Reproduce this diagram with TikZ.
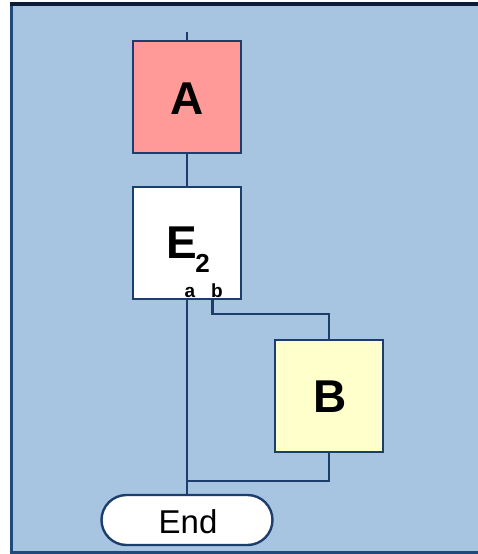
\documentclass[tikz,border=0pt]{standalone}
\usepackage{fontspec}
\setmainfont{Liberation Sans}
\usetikzlibrary{shapes.misc}
\definecolor{bg}{HTML}{A7C4E1}
\definecolor{lineblue}{HTML}{1C3E6C}
\definecolor{frametop}{HTML}{0B1D36}
\definecolor{frameside}{HTML}{1F4A7A}
\definecolor{afill}{HTML}{FF9A99}
\definecolor{bfill}{HTML}{FFFFCC}
\tikzset{
  conn/.style={draw=lineblue, line width=2.7pt},
  stepbox/.style={draw=lineblue, line width=2.7pt, rectangle, minimum width=108pt, minimum height=112pt, inner sep=0pt},
  term/.style={draw=lineblue, line width=2.4pt, rounded rectangle, fill=white, minimum width=171pt, minimum height=50pt, inner sep=0pt},
  bigtxt/.style={font=\fontsize{46}{46}\selectfont\bfseries, inner sep=0pt, anchor=base},
  smalltxt/.style={font=\fontsize{19}{19}\selectfont\bfseries, inner sep=0pt, anchor=base},
}
\begin{document}
\begin{tikzpicture}[x=1pt,y=-1pt]
\useasboundingbox (0,0) rectangle (477,554);
% background and frame
\fill[bg] (11.5,4) rectangle (480,552);
\draw[frameside, line width=3pt] (11.5,552.5) -- (11.5,3.5);
\draw[frametop, line width=4pt] (10,4) -- (480,4);
\draw[frameside, line width=3pt] (10,552.5) -- (480,552.5);

% nodes
\node[stepbox, fill=afill] (A) at (187,97) {};
\node[stepbox, fill=white] (E) at (187,243) {};
\node[stepbox, fill=bfill] (B) at (329,396) {};
\node[term] (End) at (187,520) {};

% texts
\node[bigtxt] (Atxt) at (187.5,114) {A};
\node[bigtxt] (Btxt) at (330,412) {B};
\node[bigtxt] (Etxt) at (181.5,258) {E};
\node[font=\fontsize{26}{26}\selectfont\bfseries, inner sep=0pt, anchor=base] (sub) at (202.5,272) {2};
\node[smalltxt] (ain) at (190,297) {a};
\node[smalltxt] (bin) at (217,297) {b};
\node[font=\fontsize{33}{33}\selectfont, inner sep=0pt, anchor=base] (Endtxt) at (188,533) {End};

% coordinates
\coordinate (top) at (187,32);
\coordinate (bout) at (212.5,299);
\coordinate (join) at (187,481);

% connectors
\draw[conn] (top) -- (A.north);
\draw[conn] (A.south) -- (E.north);
\draw[conn] (E.south) -- (End.north);
\draw[conn] (bout) -- ++(0,15) -| (B.north);
\draw[conn] (B.south) |- (join);
\end{tikzpicture}
\end{document}
